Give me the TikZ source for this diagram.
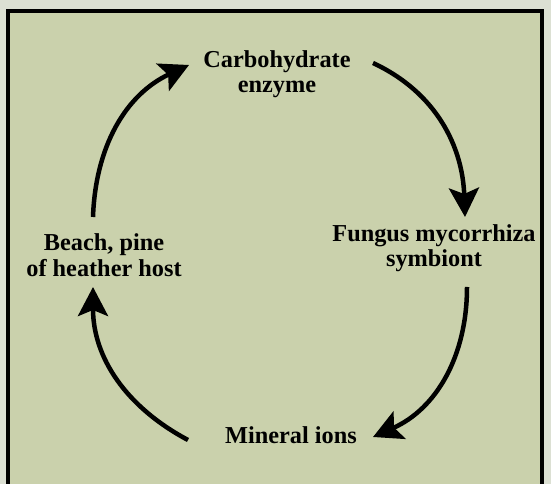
\documentclass[tikz,border=0pt]{standalone}
\usepackage{fontspec}
\setmainfont{Liberation Serif}
\usetikzlibrary{arrows.meta}
\definecolor{paper}{HTML}{DCE0D3}
\definecolor{panel}{HTML}{CAD1AC}
\tikzset{
  lbl/.style={font=\fontsize{24.3}{25.5}\selectfont\bfseries, align=center, text=black, inner sep=0pt},
  cyc/.style={line width=4.5pt, -{Stealth[length=29pt,width=30pt,inset=6pt]}, black},
  frame/.style={line width=4pt, black}
}
\begin{document}
\begin{tikzpicture}[x=1pt,y=1pt]
\useasboundingbox (0,0) rectangle (551,484);
\fill[paper] (0,0) rectangle (551,484);
\fill[panel] (7.5,-10) rectangle (542,473);
\draw[frame] (7.5,-10) -- (7.5,473) -- (542,473) -- (542,-10);

\node[lbl] (carb)  at (277,410) {Carbohydrate\\enzyme};
\node[lbl] (fung)  at (434,236) {Fungus mycorrhiza\\symbiont};
\node[lbl] (beach) at (104,229) {Beach, pine\\of heather host};
\node[lbl] (mine)  at (291,49)  {Mineral ions};

\draw[cyc] ([shift={(-11,38)}]beach.center) to[out=88,in=205] ([shift={(-88,9)}]carb.center);
\draw[cyc] ([shift={(96,11)}]carb.center) to[out=-25,in=92] ([shift={(31,31)}]fung.center);
\draw[cyc] ([shift={(33,-39)}]fung.center) to[out=-90,in=24] ([shift={(82,-2)}]mine.center);
\draw[cyc] ([shift={(-103,-5)}]mine.center) to[out=152,in=-90] ([shift={(-11,-32)}]beach.center);
\end{tikzpicture}
\end{document}
